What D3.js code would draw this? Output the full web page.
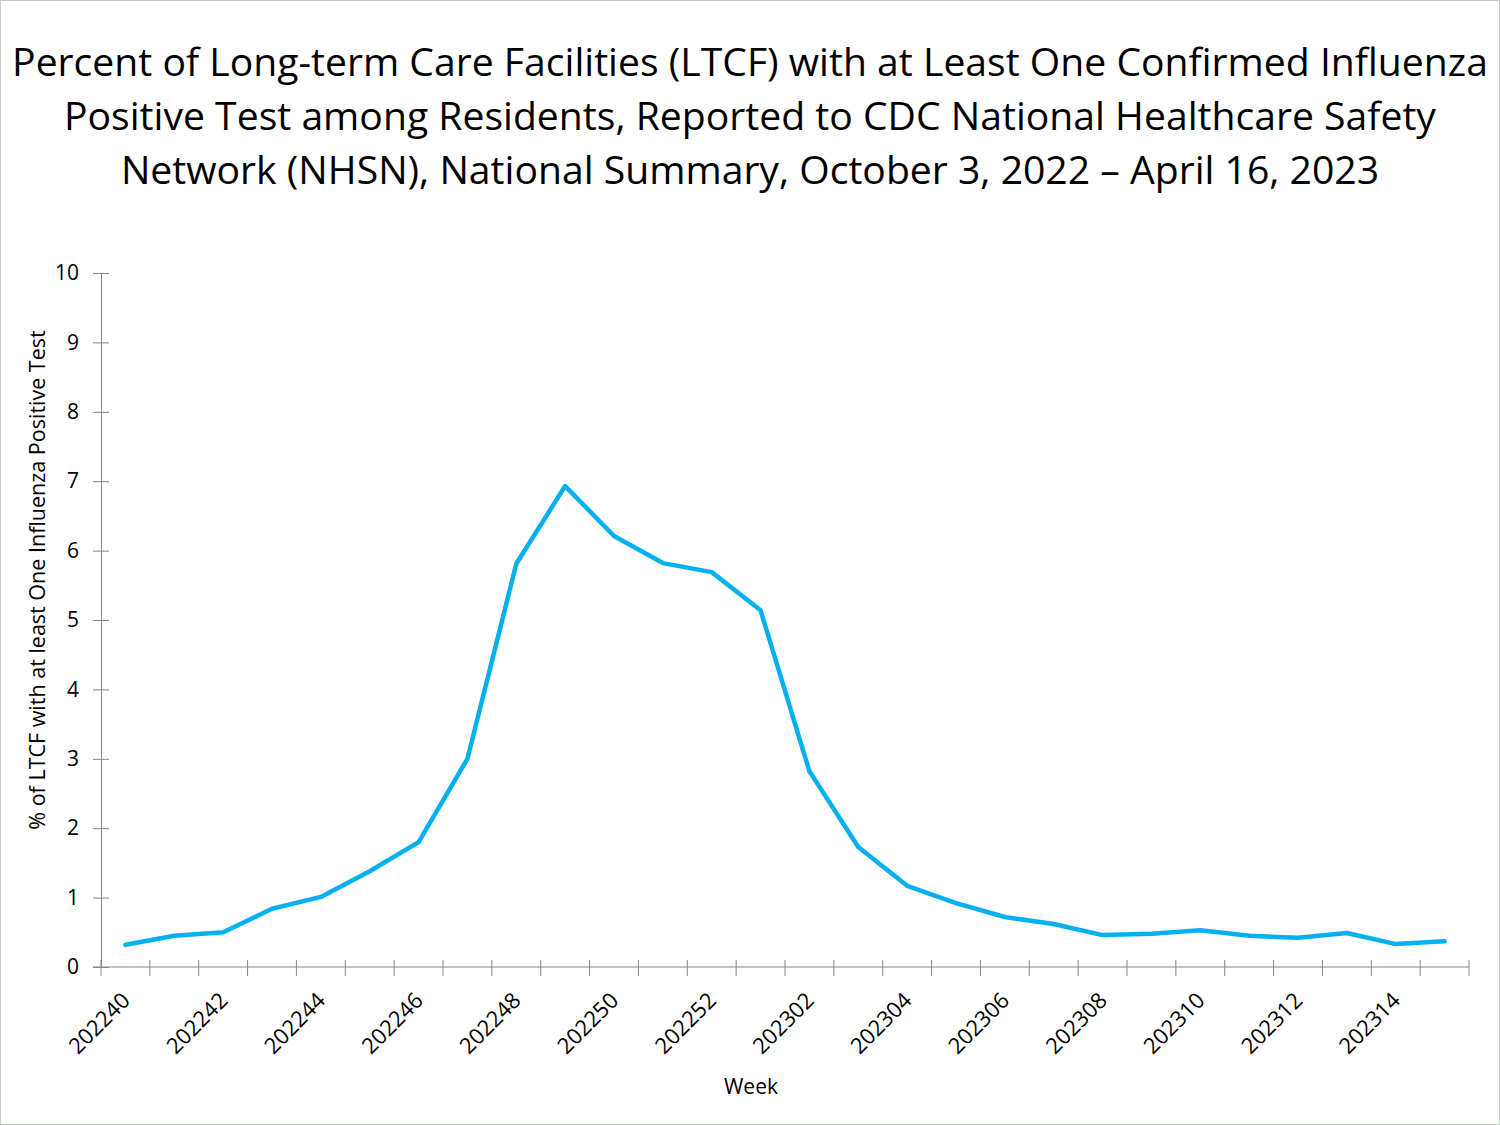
<!DOCTYPE html>
<html>
<head>
<meta charset="utf-8">
<script src="https://cdn.jsdelivr.net/npm/d3@7"></script>
<style>
  body { margin: 0; background: #fff; }
  svg { display: block; }
  text { font-family: "Open Sans", "Noto Sans", sans-serif; fill: #000; }
</style>
</head>
<body>
<div id="chart"></div>
<script>
// weeks (MMWR year + week) and percent of LTCF with a positive test
var weeks = ["202240", "202241", "202242", "202243", "202244", "202245", "202246",
    "202247", "202248", "202249", "202250", "202251", "202252", "202301", "202302",
    "202303", "202304", "202305", "202306", "202307", "202308", "202309", "202310",
    "202311", "202312", "202313", "202314", "202315"];
var percents = [0.32, 0.45, 0.50, 0.84, 1.01, 1.38, 1.80, 3.00, 5.81, 6.93, 6.21,
    5.82, 5.69, 5.14, 2.82, 1.73, 1.17, 0.92, 0.72, 0.62, 0.46, 0.48, 0.53, 0.45,
    0.42, 0.49, 0.33, 0.37];
var yTicks = [0, 1, 2, 3, 4, 5, 6, 7, 8, 9, 10];
var titleLines = [
    "Percent of Long-term Care Facilities (LTCF) with at Least One Confirmed Influenza",
    "Positive Test among Residents, Reported to CDC National Healthcare Safety",
    "Network (NHSN), National Summary, October 3, 2022 \u2013 April 16, 2023"
];

var W = 1500, H = 1125;
var margin = { top: 273, right: 31, bottom: 158, left: 101 },
    width = W - margin.left - margin.right,
    height = H - margin.top - margin.bottom;

var svg = d3.select("#chart")
    .append("svg")
    .attr("width", W)
    .attr("height", H);

// thin frame round the slide
svg.append("rect")
    .attr("x", 0.5).attr("y", 0.5)
    .attr("width", W - 1).attr("height", H - 1)
    .attr("fill", "#fff")
    .attr("stroke", "#c5cec5");

// title, sized so the first line fills the width
var title = svg.append("g");
var t0 = title.append("text")
    .attr("font-size", 40)
    .text(titleLines[0]);
var fs = 40 * 1476 / t0.node().getComputedTextLength();
t0.remove();
title.selectAll("text")
    .data(titleLines)
    .enter()
    .append("text")
    .attr("x", W / 2)
    .attr("y", (d, i) => 76 + i * 54)
    .attr("text-anchor", "middle")
    .attr("font-size", fs)
    .text(d => d);

var g = svg.append("g")
    .attr("transform", "translate(" + margin.left + "," + margin.top + ")");

// X scale: a band per week, ticks on the boundaries
var x = d3.scaleBand()
    .domain(weeks)
    .range([0, width]);

var y = d3.scaleLinear()
    .domain([0, 10])
    .range([height, 0]);

var axisColor = "#868686";
var labelSize = 21;

// Y axis
var yAxis = g.append("g")
    .call(d3.axisLeft(y).tickValues(yTicks).tickSize(0).tickPadding(22));
yAxis.select(".domain").attr("stroke", axisColor);
yAxis.selectAll(".tick line")
    .attr("x1", -8).attr("x2", 8)
    .attr("stroke", axisColor);
yAxis.selectAll(".tick text")
    .attr("font-size", labelSize)
    .attr("fill", "#000")
    .attr("font-family", "'Open Sans', sans-serif");

// X axis line with boundary ticks
var xAxis = g.append("g")
    .attr("transform", "translate(0," + height + ")");
xAxis.append("line")
    .attr("x1", -8).attr("x2", width)
    .attr("stroke", axisColor);
var bounds = weeks.map(w => x(w)).concat([width]);
xAxis.selectAll(".xtick")
    .data(bounds)
    .enter()
    .append("line")
    .attr("x1", d => d).attr("x2", d => d)
    .attr("y1", -7).attr("y2", 9)
    .attr("stroke", axisColor);

// every other week label, rotated
xAxis.selectAll(".xlabel")
    .data(weeks.filter((w, i) => i % 2 === 0))
    .enter()
    .append("text")
    .attr("transform", d => "translate(" + (x(d) + x.bandwidth() / 2 - 5) + ",24) rotate(-45)")
    .attr("text-anchor", "end")
    .attr("dy", "0.7em")
    .attr("font-size", 22)
    .text(d => d);

// axis titles
svg.append("text")
    .attr("transform", "translate(45,580) rotate(-90)")
    .attr("text-anchor", "middle")
    .attr("font-size", 21.5)
    .text("% of LTCF with at least One Influenza Positive Test");

svg.append("text")
    .attr("x", 751)
    .attr("y", 1094)
    .attr("text-anchor", "middle")
    .attr("font-size", labelSize)
    .text("Week");

// the line
var line = d3.line()
    .x((d, i) => x(weeks[i]) + x.bandwidth() / 2)
    .y(d => y(d));

g.append("path")
    .datum(percents)
    .attr("fill", "none")
    .attr("stroke", "#00b0f0")
    .attr("stroke-width", 4.5)
    .attr("stroke-linejoin", "round")
    .attr("stroke-linecap", "round")
    .attr("d", line);
</script>
</body>
</html>
